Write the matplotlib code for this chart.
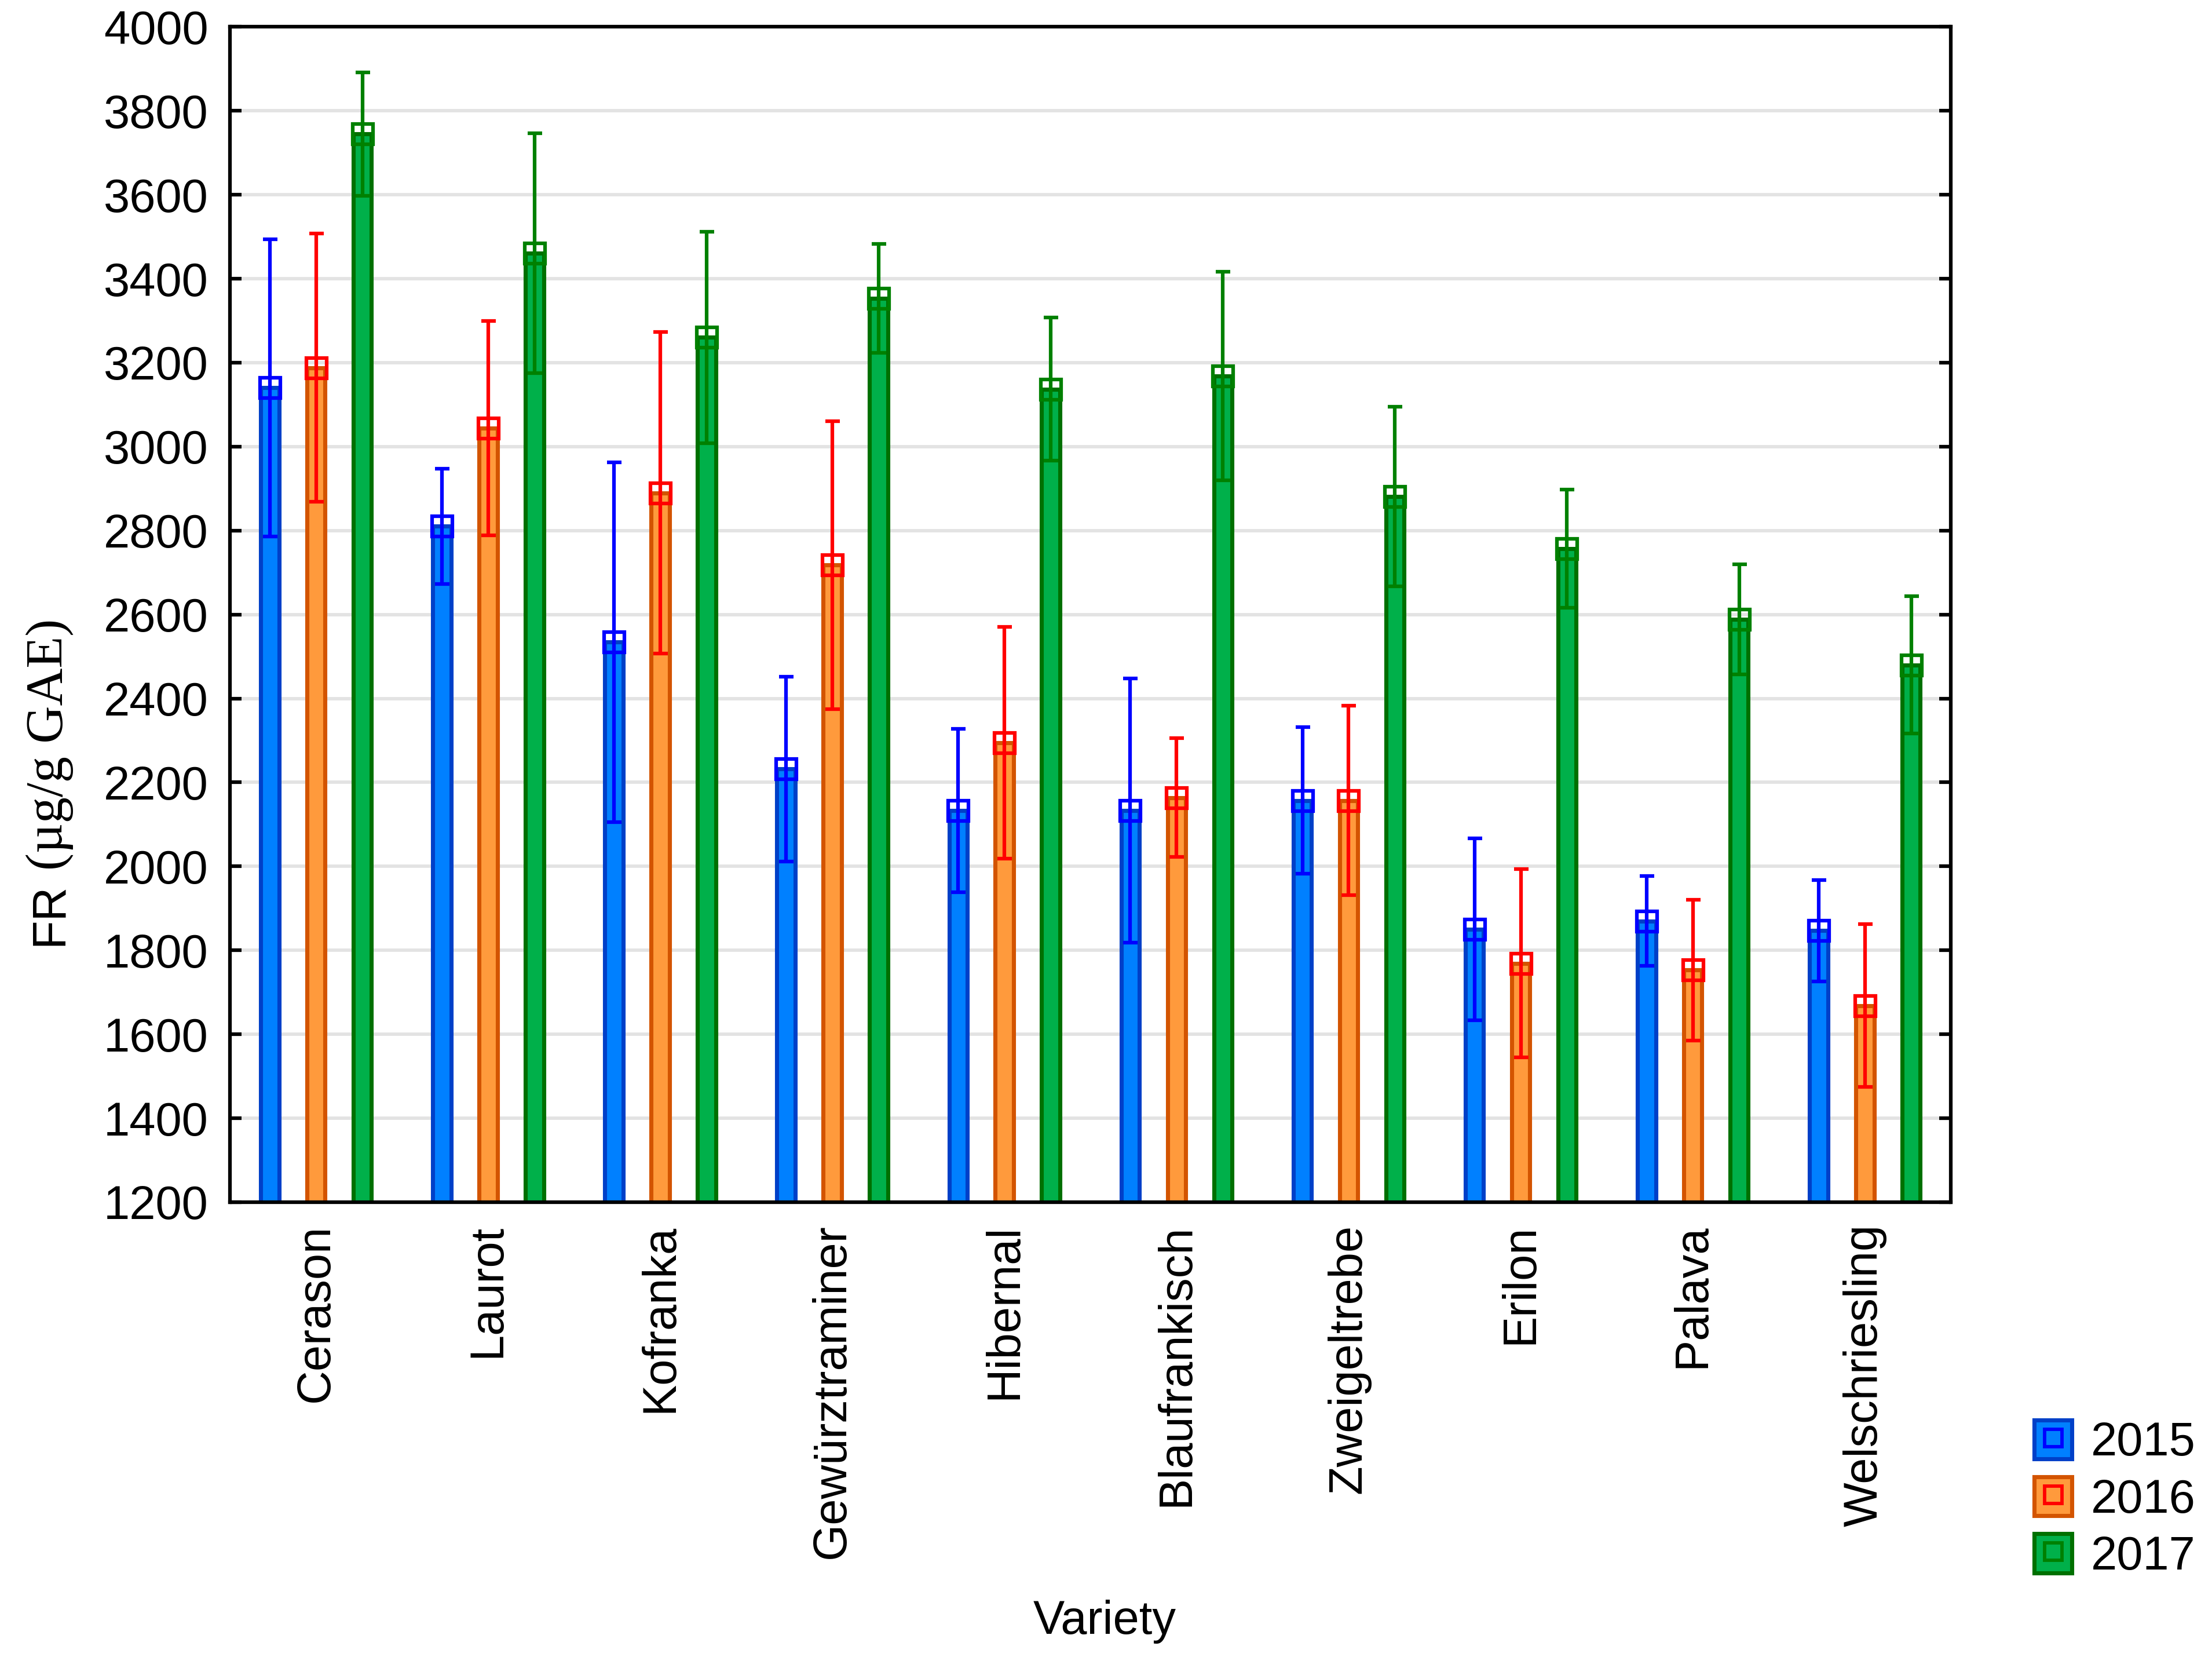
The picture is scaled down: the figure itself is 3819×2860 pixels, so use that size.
import matplotlib
matplotlib.use("Agg")
import matplotlib.pyplot as plt
import numpy as np
from matplotlib.patches import Patch
from matplotlib.lines import Line2D
from matplotlib.legend_handler import HandlerTuple

varieties = ["Cerason", "Laurot", "Kofranka", "Gewürztraminer", "Hibernal",
             "Blaufrankisch", "Zweigeltrebe", "Erilon", "Palava", "Welschriesling"]
years = ["2015", "2016", "2017"]

means_2015 = [3140, 2810, 2534, 2232, 2133, 2133, 2157, 1850, 1870, 1847]
err_2015 = [354, 137, 428, 220, 195, 315, 175, 217, 107, 121]
means_2016 = [3188, 3044, 2890, 2718, 2295, 2164, 2157, 1769, 1753, 1668]
err_2016 = [320, 255, 383, 343, 276, 142, 226, 224, 168, 194]
means_2017 = [3745, 3461, 3260, 3353, 3137, 3168, 2881, 2757, 2588, 2480]
err_2017 = [147, 286, 252, 130, 170, 248, 214, 141, 131, 163]

yticks = [1200, 1400, 1600, 1800, 2000, 2200, 2400, 2600, 2800, 3000,
          3200, 3400, 3600, 3800, 4000]

means = [means_2015, means_2016, means_2017]
errs = [err_2015, err_2016, err_2017]
fills = ["#0080FF", "#FF9A3C", "#00B04A"]
edges = ["#0040C8", "#D35400", "#007000"]
ecols = ["#0000FF", "#FF0000", "#008000"]
offsets = [-0.269, 0.0, 0.269]

FS = 19.5
plt.rcParams['font.family'] = ['Liberation Sans', 'DejaVu Sans']

fig = plt.figure(figsize=(3819 / 300, 2860 / 300), dpi=300)
ax = fig.add_axes([0.1040, 0.2745, 0.8820 - 0.1040, 0.9838 - 0.2745])

x = np.arange(len(varieties))
for j in range(3):
    ax.bar(x + offsets[j], means[j], width=0.106, color=fills[j],
           edgecolor=edges[j], linewidth=1.7, zorder=2)
    ax.errorbar(x + offsets[j], means[j], yerr=errs[j], fmt='s', mfc='none',
                mec=ecols[j], ecolor=ecols[j], ms=8.4, mew=1.5, elinewidth=1.5,
                capsize=3.0, capthick=1.5, zorder=3)

ax.set_xlim(-0.5, len(varieties) - 0.5)
ax.set_ylim(1200, 4000)
ax.set_yticks(yticks)
ax.set_xticks(x)
ax.set_xticklabels(varieties, rotation=90)
ax.yaxis.grid(True, color='#E3E3E3', lw=1.4)
ax.set_axisbelow(True)
for s in ax.spines.values():
    s.set_linewidth(1.5)
ax.tick_params(axis='y', direction='in', length=4.8, width=1.5, pad=9,
               labelsize=FS, right=True)
ax.tick_params(axis='x', direction='in', length=4.8, width=1.5, pad=9,
               labelsize=FS)

fig.text(783 / 1568, 1 - 1149 / 1174, "Variety", ha='center', va='center',
         fontsize=FS)

# y label: sans "FR" followed by serif unit part
fr = fig.text(44 / 1568, 1 - 670 / 1174, "FR", rotation=90,
              rotation_mode='anchor', ha='left', va='baseline', fontsize=FS)
fig.canvas.draw()
r = fig.canvas.get_renderer()
bb = fr.get_window_extent(r)
gap = 22  # pixels
y_start = (bb.y1 + gap) / fig.bbox.height
fig.text(44 / 1568, y_start, "(µg/g GAE)", rotation=90,
         rotation_mode='anchor', ha='left', va='baseline', fontsize=21.6,
         family=['Liberation Serif', 'DejaVu Serif'])

handles = []
for j in range(3):
    p = Patch(facecolor=fills[j], edgecolor=edges[j], lw=1.7)
    m = Line2D([], [], marker='s', ls='none', mfc='none', mec=ecols[j],
               ms=7.0, mew=1.4)
    handles.append((p, m))
ax.legend(handles, years, loc='upper left',
          bbox_to_anchor=(1442 / 1568, 1 - 1006 / 1174),
          bbox_transform=fig.transFigure, frameon=False, borderpad=0,
          borderaxespad=0,
          handlelength=0.8, handleheight=0.9, handletextpad=0.4,
          labelspacing=0.24, fontsize=FS,
          handler_map={tuple: HandlerTuple(ndivide=1, pad=0)})

fig.savefig("out.png", dpi=300)
